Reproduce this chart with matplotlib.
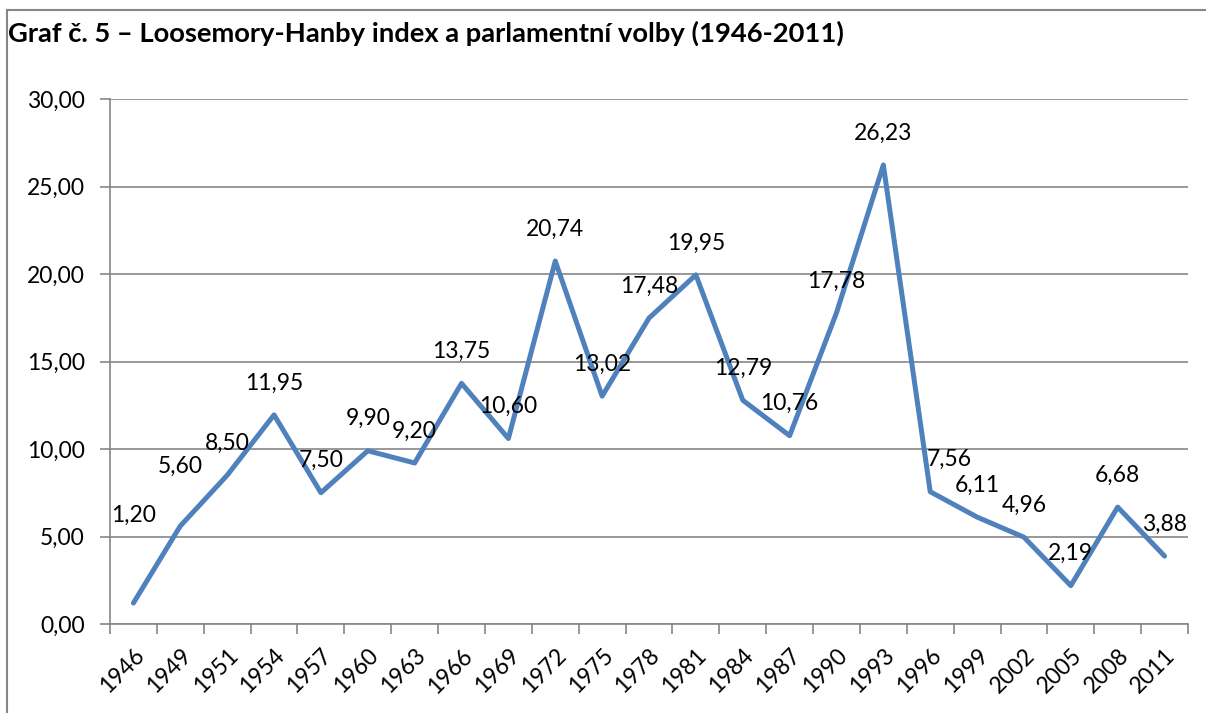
import matplotlib
matplotlib.use('Agg')
import matplotlib.pyplot as plt
from matplotlib.lines import Line2D

plt.rcParams['font.family'] = ['Lato', 'DejaVu Sans']

# data
years = ['1946', '1949', '1951', '1954', '1957', '1960', '1963', '1966', '1969', '1972',
         '1975', '1978', '1981', '1984', '1987', '1990', '1993', '1996', '1999', '2002',
         '2005', '2008', '2011']
lh_index = [1.20, 5.60, 8.50, 11.95, 7.50, 9.90, 9.20, 13.75, 10.60, 20.74,
            13.02, 17.48, 19.95, 12.79, 10.76, 17.78, 26.23, 7.56, 6.11, 4.96,
            2.19, 6.68, 3.88]
y_ticks = [0, 5, 10, 15, 20, 25, 30]

title = 'Graf č. 5 – Loosemory-Hanby index a parlamentní volby (1946-2011)'

line_col = '#4F81BD'
grid_col = '#868686'

W, H = 1206, 713
fig = plt.figure(figsize=(W / 100, H / 100), dpi=100)
ax = fig.add_axes([110 / W, 1 - 624 / H, (1188 - 110) / W, (624 - 99) / H])

x = list(range(len(years)))
ax.plot(x, lh_index, color=line_col, lw=3.6, solid_capstyle='round', solid_joinstyle='round', zorder=3)

# data labels, a few were moved by hand in the original
label_shift = {0: (0, 63), 1: (0, 43), 17: (14, 23)}
for i, v in enumerate(lh_index):
    dx, dy = label_shift.get(i, (0, 23))
    ax.annotate(f'{v:.2f}'.replace('.', ','), (i, v), xytext=(dx, dy), textcoords='offset points',
                ha='center', va='center', fontsize=16.5, color='black', zorder=4)

ax.set_xlim(-0.5, len(years) - 0.5)
ax.set_ylim(0, 30)
ax.set_yticks(y_ticks)
ax.set_yticklabels([f'{t:.2f}'.replace('.', ',') for t in y_ticks], fontsize=16.5)
ax.yaxis.grid(True, color=grid_col, lw=1.2)
ax.set_axisbelow(True)

# category ticks on boundaries, labels in the middle
ax.set_xticks([i - 0.5 for i in range(len(years) + 1)])
ax.set_xticklabels([])
ax.set_xticks(x, minor=True)
ax.set_xticklabels(years, minor=True, rotation=45, ha='right', rotation_mode='anchor', fontsize=16.5)
ax.tick_params(axis='x', which='major', length=7, color=grid_col, width=1.2)
ax.tick_params(axis='x', which='minor', length=0, pad=15)
ax.tick_params(axis='y', length=7, color=grid_col, width=1.2, pad=11)

for s in ['top', 'right']:
    ax.spines[s].set_visible(False)
for s in ['left', 'bottom']:
    ax.spines[s].set_color(grid_col)
    ax.spines[s].set_linewidth(1.2)

fig.text(8 / W, 1 - 33 / H, title, fontsize=19.7, fontweight='bold', ha='left', va='center')

# outer frame (top and left edges visible)
fig.add_artist(Line2D([7 / W, 1], [1 - 10 / H, 1 - 10 / H], color=grid_col, lw=1.5))
fig.add_artist(Line2D([7 / W, 7 / W], [0, 1 - 10 / H], color=grid_col, lw=1.5))

fig.savefig('out.png', dpi=100)
